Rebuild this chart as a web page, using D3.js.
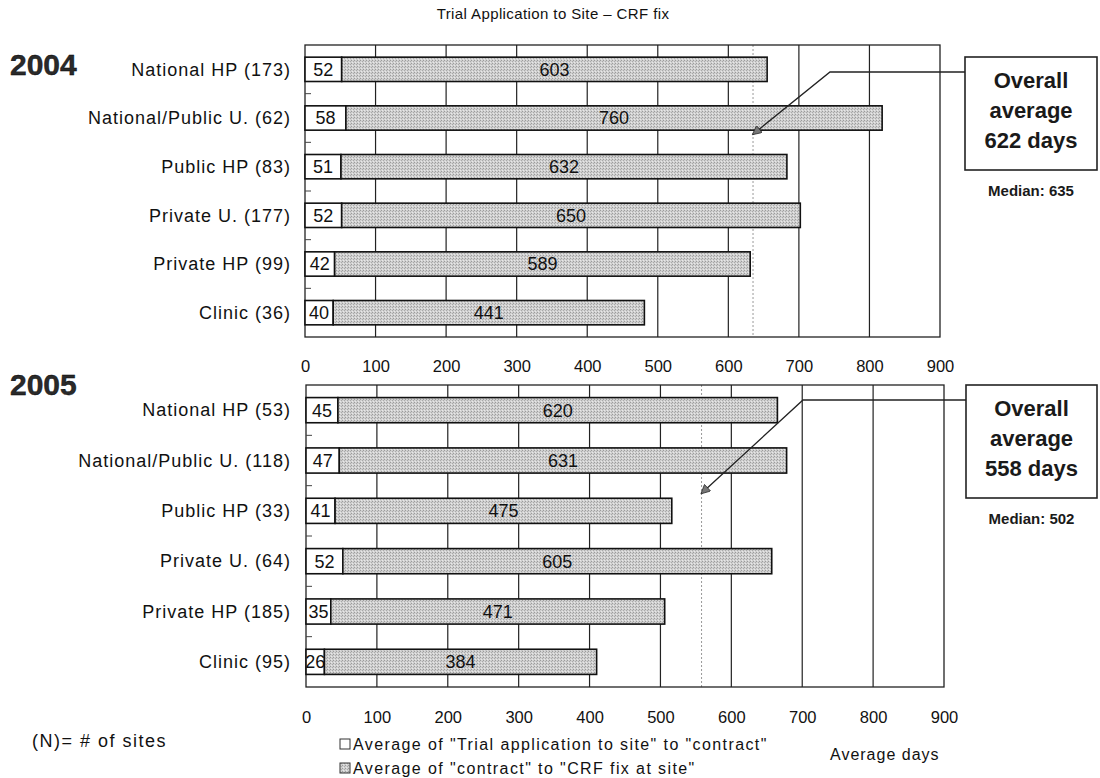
<!DOCTYPE html>
<html>
<head>
<meta charset="utf-8">
<script src="https://cdn.jsdelivr.net/npm/d3@7"></script>
<style>
  html, body { margin: 0; padding: 0; background: #fff; }
  svg { display: block; font-family: "Liberation Sans", Arial, sans-serif; }
</style>
</head>
<body>
<svg id="chart" width="1100" height="778"></svg>
<script>
// Site rows per year, with site counts in brackets
const categories2004 = ["National HP (173)", "National/Public U. (62)", "Public HP (83)", "Private U. (177)", "Private HP (99)", "Clinic (36)"];
const categories2005 = ["National HP (53)", "National/Public U. (118)", "Public HP (33)", "Private U. (64)", "Private HP (185)", "Clinic (95)"];

// Average days: trial application to site -> contract
const toContract2004 = [52, 58, 51, 52, 42, 40];
const toContract2005 = [45, 47, 41, 52, 35, 26];

// Average days: contract -> CRF fix at site
const contractToCrf2004 = [603, 760, 632, 650, 589, 441];
const contractToCrf2005 = [620, 631, 475, 605, 471, 384];

// Summary figures per year
const years = ["2004", "2005"];
const overallAverage = [622, 558];
const medianDays = [635, 502];
// Dotted reference line per panel (days)
const referenceDays = [635, 558];

const xTicks = [0, 100, 200, 300, 400, 500, 600, 700, 800, 900];
const legendLabels = ['Average of "Trial application to site" to "contract"', 'Average of "contract" to "CRF fix at site"'];

const svg = d3.select("#chart");

// stippled grey fill for the second segment
const defs = svg.append("defs");
const pat = defs.append("pattern").attr("id", "stipple")
  .attr("patternUnits", "userSpaceOnUse").attr("width", 3).attr("height", 3);
pat.append("rect").attr("width", 3).attr("height", 3).attr("fill", "#d0d0d0");
pat.append("rect").attr("x", 0).attr("y", 0).attr("width", 1).attr("height", 1).attr("fill", "#9c9c9c");
pat.append("rect").attr("x", 2).attr("y", 1).attr("width", 1).attr("height", 1).attr("fill", "#aaaaaa");
pat.append("rect").attr("x", 1).attr("y", 2).attr("width", 1).attr("height", 1).attr("fill", "#e8e8e8");

const arrowDef = defs.append("marker").attr("id", "arrowHead")
  .attr("viewBox", "0 0 10 10").attr("refX", 9).attr("refY", 5)
  .attr("markerWidth", 12).attr("markerHeight", 9).attr("orient", "auto")
  .attr("markerUnits", "userSpaceOnUse");
arrowDef.append("path").attr("d", "M0,0 L10,5 L0,10 Z").attr("fill", "#777").attr("stroke", "#222").attr("stroke-width", 0.8);

// Title
svg.append("text").attr("x", 553).attr("y", 19).attr("text-anchor", "middle")
  .attr("font-size", 15).attr("letter-spacing", 0.4).attr("fill", "#111")
  .text("Trial Application to Site \u2013 CRF fix");

const panels = [
  { year: years[0], cats: categories2004, a: toContract2004, b: contractToCrf2004,
    xr: [305, 940], yr: [45, 337], axisY: 372, yearY: 75,
    avg: overallAverage[0], med: medianDays[0], ref: referenceDays[0],
    box: { x: 965, y: 57, w: 132, h: 113 }, elbow: [830, 72],
    tip: (y, cats) => y(cats[1]) + y.bandwidth() + 4 },
  { year: years[1], cats: categories2005, a: toContract2005, b: contractToCrf2005,
    xr: [306, 944], yr: [385, 687], axisY: 723, yearY: 395,
    avg: overallAverage[1], med: medianDays[1], ref: referenceDays[1],
    box: { x: 966, y: 385, w: 131, h: 113 }, elbow: [803, 400],
    tip: (y, cats) => y(cats[2]) - 5 }
];

panels.forEach(p => {
  const x = d3.scaleLinear().domain([0, 900]).range(p.xr);
  const y = d3.scaleBand().domain(p.cats).range(p.yr).paddingInner(0.5).paddingOuter(0.25);
  const g = svg.append("g");

  // Year heading
  svg.append("text").attr("x", 10).attr("y", p.yearY).attr("font-size", 30)
    .attr("font-weight", "bold").attr("fill", "#2a2a2a").attr("stroke", "#000").attr("stroke-width", 0.4)
    .text(p.year);

  // vertical grid lines
  g.selectAll("line.grid").data(xTicks.slice(1, -1)).join("line")
    .attr("x1", d => x(d)).attr("x2", d => x(d))
    .attr("y1", p.yr[0]).attr("y2", p.yr[1])
    .attr("stroke", "#222").attr("stroke-width", 1.2);

  // dotted reference line
  g.append("line").attr("x1", x(p.ref)).attr("x2", x(p.ref))
    .attr("y1", p.yr[0]).attr("y2", p.yr[1])
    .attr("stroke", "#999").attr("stroke-width", 1).attr("stroke-dasharray", "2,2");

  // plot frame
  g.append("rect").attr("x", p.xr[0]).attr("y", p.yr[0])
    .attr("width", p.xr[1] - p.xr[0]).attr("height", p.yr[1] - p.yr[0])
    .attr("fill", "none").attr("stroke", "#222").attr("stroke-width", 1.3);

  // small category separator ticks on the left edge
  const step = y.step();
  g.selectAll("line.sep").data(p.cats.slice(1)).join("line")
    .attr("x1", p.xr[0]).attr("x2", p.xr[0] + 6)
    .attr("y1", (d, i) => p.yr[0] + step * (i + 1)).attr("y2", (d, i) => p.yr[0] + step * (i + 1))
    .attr("stroke", "#444").attr("stroke-width", 1);

  // category labels
  g.selectAll("text.cat").data(p.cats).join("text")
    .attr("x", 291).attr("y", d => y(d) + y.bandwidth() / 2)
    .attr("dy", "0.35em").attr("text-anchor", "end").attr("font-size", 18)
    .attr("letter-spacing", 1).attr("fill", "#111")
    .text(d => d);

  const rows = p.cats.map((c, i) => ({ c, a: p.a[i], b: p.b[i] }));

  // first segment (white)
  g.selectAll("rect.segA").data(rows).join("rect")
    .attr("x", x(0)).attr("y", d => y(d.c))
    .attr("width", d => x(d.a) - x(0)).attr("height", y.bandwidth())
    .attr("fill", "#fff").attr("stroke", "#111").attr("stroke-width", 1.6);

  // second segment (stippled)
  g.selectAll("rect.segB").data(rows).join("rect")
    .attr("x", d => x(d.a)).attr("y", d => y(d.c))
    .attr("width", d => x(d.a + d.b) - x(d.a)).attr("height", y.bandwidth())
    .attr("fill", "url(#stipple)").attr("stroke", "#111").attr("stroke-width", 1.6);

  // value labels
  g.selectAll("text.valA").data(rows).join("text")
    .attr("x", d => (x(0) + x(d.a)) / 2).attr("y", d => y(d.c) + y.bandwidth() / 2)
    .attr("dy", "0.36em").attr("text-anchor", "middle").attr("font-size", 18).attr("fill", "#111")
    .text(d => d.a);
  g.selectAll("text.valB").data(rows).join("text")
    .attr("x", d => (x(d.a) + x(d.a + d.b)) / 2).attr("y", d => y(d.c) + y.bandwidth() / 2)
    .attr("dy", "0.36em").attr("text-anchor", "middle").attr("font-size", 18).attr("fill", "#111")
    .text(d => d.b);

  // x axis labels
  const axis = d3.axisBottom(x).tickValues(xTicks).tickSize(0).tickPadding(0);
  const ax = svg.append("g").attr("transform", `translate(0,${p.axisY - 12})`).call(axis);
  ax.select(".domain").remove();
  ax.selectAll("text").attr("font-size", 16.5).attr("fill", "#111")
    .attr("font-family", "Liberation Sans, Arial, sans-serif");

  // callout box
  const bx = p.box;
  svg.append("rect").attr("x", bx.x).attr("y", bx.y).attr("width", bx.w).attr("height", bx.h)
    .attr("fill", "#fff").attr("stroke", "#222").attr("stroke-width", 1.6);
  const cx = bx.x + bx.w / 2;
  const lines = ["Overall", "average", `${p.avg} days`];
  lines.forEach((t, i) => {
    svg.append("text").attr("x", cx).attr("y", bx.y + 31 + i * 30).attr("text-anchor", "middle")
      .attr("font-size", 22).attr("font-weight", "bold").attr("fill", "#1a1a1a").text(t);
  });
  svg.append("text").attr("x", cx).attr("y", bx.y + bx.h + 26).attr("text-anchor", "middle")
    .attr("font-size", 15).attr("font-weight", "bold").attr("fill", "#1a1a1a").text(`Median: ${p.med}`);

  // connector from box to the reference line
  const tipY = p.tip(y, p.cats);
  svg.append("path")
    .attr("d", `M${bx.x},${p.elbow[1]} L${p.elbow[0]},${p.elbow[1]} L${x(p.ref)},${tipY}`)
    .attr("fill", "none").attr("stroke", "#222").attr("stroke-width", 1.3)
    .attr("marker-end", "url(#arrowHead)");
});

// footnote
svg.append("text").attr("x", 32).attr("y", 747).attr("font-size", 18)
  .attr("letter-spacing", 1.5).attr("fill", "#111").text("(N)= # of sites");

// legend
const legend = svg.append("g");
legendLabels.forEach((t, i) => {
  const ly = 744 + i * 24;
  legend.append("rect").attr("x", 340).attr("y", ly - 5).attr("width", 10).attr("height", 10)
    .attr("fill", i === 0 ? "#fff" : "url(#stipple)").attr("stroke", "#333").attr("stroke-width", 1);
  legend.append("text").attr("x", 353).attr("y", ly).attr("dy", "0.35em")
    .attr("font-size", 16).attr("letter-spacing", 1.4).attr("fill", "#111").text(t);
});
svg.append("text").attr("x", 830).attr("y", 760).attr("font-size", 16)
  .attr("letter-spacing", 1).attr("fill", "#111").text("Average days");
</script>
</body>
</html>
